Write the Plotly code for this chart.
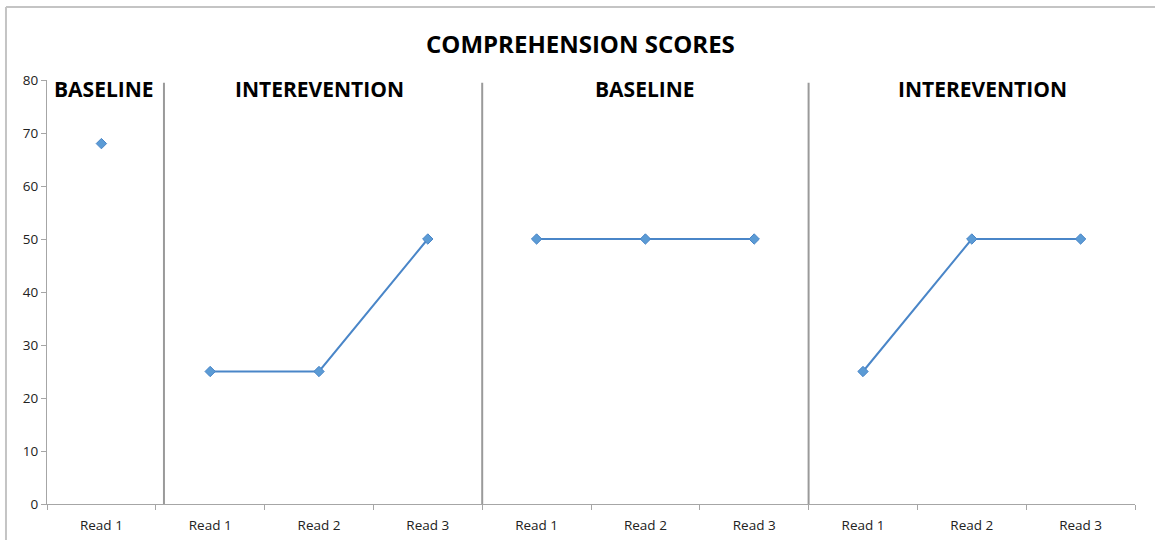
import plotly.graph_objects as go

labels = ["Read 1", "Read 1", "Read 2", "Read 3", "Read 1", "Read 2", "Read 3", "Read 1", "Read 2", "Read 3"]
phase_values = [
    [68],
    [25, 25, 50],
    [50, 50, 50],
    [25, 50, 50],
]
phase_names = ["BASELINE", "INTEREVENTION", "BASELINE", "INTEREVENTION"]
phase_label_x = [0.02, 2.0, 5.0, 8.1]
separators = [0.575, 3.5, 6.5]
title_text = "COMPREHENSION SCORES"

fig = go.Figure()
start = 0
for vals in phase_values:
    xs = list(range(start, start + len(vals)))
    fig.add_trace(go.Scatter(
        x=xs, y=vals, mode="lines+markers",
        line=dict(color="#4A86C8", width=2),
        marker=dict(symbol="diamond", size=8, color="#5B9BD5",
                    line=dict(color="#4A86C8", width=1)),
        showlegend=False, hoverinfo="skip"))
    start += len(vals)

font_main = "Open Sans"

fig.update_layout(
    width=1155, height=540,
    margin=dict(l=47, r=20, t=80, b=36),
    paper_bgcolor="white", plot_bgcolor="white",
    xaxis=dict(
        range=[-0.5, 9.5], tickmode="array", tickvals=list(range(10)),
        ticktext=labels, ticks="", showgrid=False, zeroline=False,
        showline=True, linecolor="#a6a6a6", linewidth=1,
        tickfont=dict(family=font_main, size=13.5, color="#222"),
        ticklabelstandoff=9, automargin=False,
        minor=dict(tickmode="linear", tick0=-0.5, dtick=1, ticks="outside",
                   ticklen=5, tickcolor="#a6a6a6", tickwidth=1, showgrid=False),
        fixedrange=True,
    ),
    yaxis=dict(
        range=[0, 80], dtick=10, ticks="outside", ticklen=5,
        tickcolor="#a6a6a6", showgrid=False, zeroline=False,
        showline=True, linecolor="#a6a6a6", linewidth=1, automargin=False,
        tickfont=dict(family=font_main, size=13.5, color="#222"),
    ),
)

for s in separators:
    fig.add_shape(type="line", xref="x", yref="y", x0=s, x1=s, y0=0, y1=79.5,
                  line=dict(color="#9a9a9a", width=2))

# outer frame (left and top edges visible)
fig.add_shape(type="line", xref="paper", yref="paper", x0=-0.0377, x1=-0.0377,
              y0=-0.2, y1=1.172, line=dict(color="#c4c4c4", width=2))
fig.add_shape(type="line", xref="paper", yref="paper", x0=-0.0377, x1=1.1,
              y0=1.172, y1=1.172, line=dict(color="#c4c4c4", width=2))

fig.add_annotation(text="<b>" + title_text + "</b>", xref="paper", yref="paper",
                   x=0.49, y=1.087, xanchor="center", yanchor="middle",
                   showarrow=False, font=dict(family=font_main, size=24, color="black"))

for name, px in zip(phase_names, phase_label_x):
    fig.add_annotation(text="<b>" + name + "</b>", xref="x", yref="paper",
                       x=px, y=0.979, xanchor="center", yanchor="middle",
                       showarrow=False, font=dict(family=font_main, size=21, color="black"))

fig.write_html("out.html")
